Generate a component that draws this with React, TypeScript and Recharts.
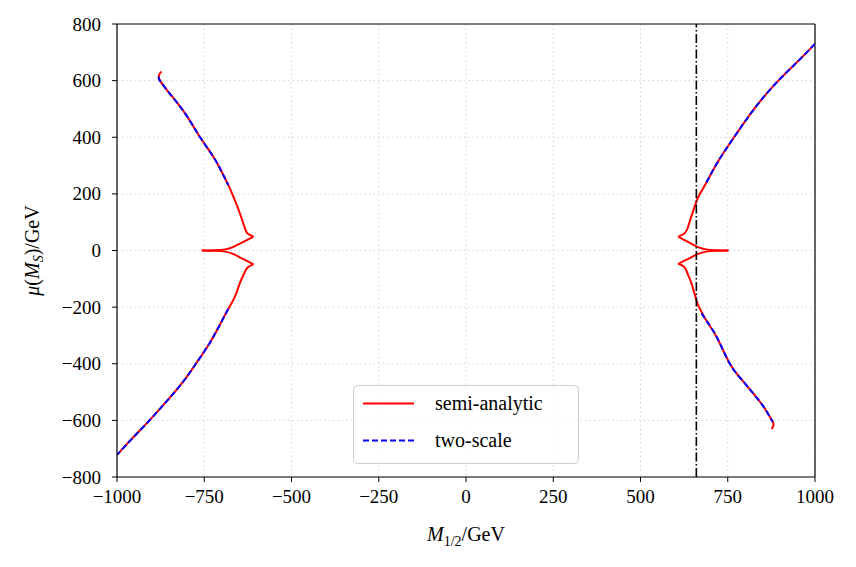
import React from "react";
import { CartesianGrid, Legend, Line, LineChart, ReferenceLine, XAxis, YAxis } from "recharts";

type Pt = { x: number; y: number };

// M_1/2 axis ticks and mu(M_S) axis ticks
const xTicks = [-1000, -750, -500, -250, 0, 250, 500, 750, 1000];
const yTicks = [-800, -600, -400, -200, 0, 200, 400, 600, 800];

// position of the dash-dotted marker line
const markerX = 660;

// semi-analytic, negative M_1/2: split at the cusps so each piece is smooth
const semiLeftUpper: Pt[] = [
  { x: -872, y: 632 }, { x: -878, y: 624 }, { x: -880, y: 614 }, { x: -877, y: 600 },
  { x: -850, y: 556 }, { x: -819, y: 508 }, { x: -790, y: 456 }, { x: -762, y: 400 },
  { x: -724, y: 331 }, { x: -700, y: 278 }, { x: -681, y: 231 }, { x: -668, y: 195 },
  { x: -655, y: 155 }, { x: -643, y: 114 }, { x: -634, y: 80 }, { x: -626, y: 60 },
  { x: -609, y: 49 },
];
const semiLeftSpikeUp: Pt[] = [
  { x: -609, y: 49 }, { x: -628, y: 37 }, { x: -648, y: 24 }, { x: -668, y: 12 },
  { x: -690, y: 4 }, { x: -720, y: 1 }, { x: -757, y: 0 },
];
const semiLeftSpikeDown: Pt[] = [
  { x: -757, y: 0 }, { x: -720, y: -1 }, { x: -690, y: -4 }, { x: -668, y: -12 },
  { x: -648, y: -24 }, { x: -628, y: -37 }, { x: -609, y: -49 },
];
const semiLeftLower: Pt[] = [
  { x: -609, y: -49 }, { x: -626, y: -60 }, { x: -636, y: -82 }, { x: -648, y: -115 },
  { x: -662, y: -163 }, { x: -681, y: -206 }, { x: -706, y: -264 }, { x: -736, y: -330 },
  { x: -774, y: -400 }, { x: -812, y: -466 }, { x: -858, y: -533 }, { x: -907, y: -600 },
  { x: -955, y: -662 }, { x: -1000, y: -722 },
];

// semi-analytic, positive M_1/2
const semiRightUpper: Pt[] = [
  { x: 1000, y: 730 }, { x: 950, y: 667 }, { x: 895, y: 600 }, { x: 830, y: 507 },
  { x: 768, y: 400 }, { x: 720, y: 310 }, { x: 685, y: 231 }, { x: 668, y: 195 },
  { x: 655, y: 155 }, { x: 643, y: 110 }, { x: 634, y: 76 }, { x: 625, y: 59 },
  { x: 608, y: 49 },
];
const semiRightSpikeUp: Pt[] = [
  { x: 608, y: 49 }, { x: 626, y: 37 }, { x: 645, y: 24 }, { x: 665, y: 12 },
  { x: 688, y: 4 }, { x: 717, y: 1 }, { x: 752, y: 0 },
];
const semiRightSpikeDown: Pt[] = [
  { x: 752, y: 0 }, { x: 717, y: -1 }, { x: 688, y: -4 }, { x: 665, y: -12 },
  { x: 645, y: -24 }, { x: 626, y: -36 }, { x: 608, y: -47 },
];
const semiRightLower: Pt[] = [
  { x: 608, y: -47 }, { x: 626, y: -59 }, { x: 636, y: -85 }, { x: 646, y: -116 },
  { x: 660, y: -175 }, { x: 668, y: -200 }, { x: 690, y: -250 }, { x: 719, y: -307 },
  { x: 756, y: -400 }, { x: 790, y: -456 }, { x: 823, y: -505 }, { x: 849, y: -545 },
  { x: 867, y: -580 }, { x: 879, y: -605 }, { x: 881, y: -617 }, { x: 876, y: -631 },
];

// two-scale solution, only where it exists
const twoLeftUpper: Pt[] = [
  { x: -880, y: 614 }, { x: -877, y: 600 }, { x: -850, y: 556 }, { x: -819, y: 508 },
  { x: -790, y: 456 }, { x: -762, y: 400 }, { x: -724, y: 331 }, { x: -700, y: 278 },
  { x: -681, y: 231 },
];
const twoLeftLower: Pt[] = [
  { x: -681, y: -206 }, { x: -706, y: -264 }, { x: -736, y: -330 }, { x: -774, y: -400 },
  { x: -812, y: -466 }, { x: -858, y: -533 }, { x: -907, y: -600 }, { x: -955, y: -662 },
  { x: -1000, y: -722 },
];
const twoRightUpper: Pt[] = [
  { x: 1000, y: 730 }, { x: 950, y: 667 }, { x: 895, y: 600 }, { x: 830, y: 507 },
  { x: 768, y: 400 }, { x: 720, y: 310 }, { x: 685, y: 231 },
];
const twoRightLower: Pt[] = [
  { x: 675, y: -222 }, { x: 690, y: -250 }, { x: 719, y: -307 }, { x: 756, y: -400 },
  { x: 790, y: -456 }, { x: 823, y: -505 }, { x: 849, y: -545 }, { x: 867, y: -580 },
  { x: 879, y: -605 },
];

const semiPieces = [
  semiLeftUpper, semiLeftSpikeUp, semiLeftSpikeDown, semiLeftLower,
  semiRightUpper, semiRightSpikeUp, semiRightSpikeDown, semiRightLower,
];
const twoPieces = [twoLeftUpper, twoLeftLower, twoRightUpper, twoRightLower];

const FONT = '"Liberation Serif", "Times New Roman", Times, serif';
const RED = "#ff0000";
const BLUE = "#0000ff";
const BLUE_DASH = "6 3";

const minus = (v: number) => String(v).replace("-", "\u2212");

function XTick({ x, y, payload }: any) {
  return (
    <text x={x} y={y + 14} textAnchor="middle" style={{ fontFamily: FONT, fontSize: 19 }} fill="#000">
      {minus(payload.value)}
    </text>
  );
}

function YTick({ x, y, payload }: any) {
  return (
    <text x={x} y={y + 6.5} textAnchor="end" style={{ fontFamily: FONT, fontSize: 19 }} fill="#000">
      {minus(payload.value)}
    </text>
  );
}

function LegendBox() {
  return (
    <svg width={226} height={79} style={{ display: "block" }}>
      <rect x={0.5} y={0.5} width={225} height={78} rx={4} fill="#fff" fillOpacity={0.8} stroke="#cccccc" />
      <line x1={10} x2={61} y1={18.5} y2={18.5} stroke={RED} strokeWidth={2} />
      <line x1={10} x2={61} y1={55.5} y2={55.5} stroke={BLUE} strokeWidth={2} strokeDasharray={BLUE_DASH} />
      <text x={82} y={25} style={{ fontFamily: FONT, fontSize: 20 }} fill="#000">semi-analytic</text>
      <text x={82} y={62} style={{ fontFamily: FONT, fontSize: 20 }} fill="#000">two-scale</text>
    </svg>
  );
}

function XLabel({ viewBox }: any) {
  const cx = viewBox.x + viewBox.width / 2;
  return (
    <text x={cx} y={541} textAnchor="middle" style={{ fontFamily: FONT, fontSize: 20 }} fill="#000">
      <tspan fontStyle="italic">M</tspan>
      <tspan fontSize={14} dy={5}>1/2</tspan>
      <tspan dy={-5}>/GeV</tspan>
    </text>
  );
}

function YLabel({ viewBox }: any) {
  const cy = viewBox.y + viewBox.height / 2;
  return (
    <text
      x={39}
      y={cy}
      transform={`rotate(-90 39 ${cy})`}
      textAnchor="middle"
      style={{ fontFamily: FONT, fontSize: 20 }}
      fill="#000"
    >
      <tspan fontStyle="italic">μ</tspan>
      <tspan>(</tspan>
      <tspan fontStyle="italic">M</tspan>
      <tspan fontStyle="italic" fontSize={14} dy={4}>S</tspan>
      <tspan dy={-4}>)/GeV</tspan>
    </text>
  );
}

export default function App() {
  const axisLine = { stroke: "#000", strokeWidth: 1.2 };
  return (
    <div style={{ width: 856, height: 567, background: "#fff", position: "relative", fontFamily: FONT }}>
      <style>{"body{margin:0}"}</style>
      <LineChart width={856} height={567} margin={{ top: 24, right: 41, bottom: 0, left: 0 }}>
        <CartesianGrid stroke="#d4d4d4" strokeDasharray="1.5 3" />
        <XAxis
          type="number"
          dataKey="x"
          domain={[-1000, 1000]}
          ticks={xTicks}
          allowDataOverflow
          height={90}
          tick={<XTick />}
          tickSize={5}
          tickMargin={7}
          axisLine={axisLine}
          tickLine={{ stroke: "#000" }}
          label={<XLabel />}
        />
        <YAxis
          type="number"
          dataKey="y"
          domain={[-800, 800]}
          ticks={yTicks}
          allowDataOverflow
          width={117}
          tick={<YTick />}
          tickSize={5}
          tickMargin={11}
          axisLine={axisLine}
          tickLine={{ stroke: "#000" }}
          label={<YLabel />}
        />
        <ReferenceLine x={1000} stroke="#000" strokeWidth={1.2} />
        <ReferenceLine y={800} stroke="#000" strokeWidth={1.2} />
        {semiPieces.map((d, i) => (
          <Line
            key={`semi-${i}`}
            data={d}
            dataKey="y"
            type="natural"
            stroke={RED}
            strokeWidth={2}
            dot={false}
            activeDot={false}
            isAnimationActive={false}
          />
        ))}
        {twoPieces.map((d, i) => (
          <Line
            key={`two-${i}`}
            data={d}
            dataKey="y"
            type="natural"
            stroke={BLUE}
            strokeWidth={2}
            strokeDasharray={BLUE_DASH}
            dot={false}
            activeDot={false}
            isAnimationActive={false}
          />
        ))}
        <ReferenceLine x={markerX} stroke="#000" strokeWidth={1.6} strokeDasharray="9 2.5 1.5 2.5" />
        <Legend
          layout="horizontal"
          verticalAlign="middle"
          align="center"
          content={() => <LegendBox />}
          wrapperStyle={{ left: 353, top: 385, width: 226, height: 79 }}
        />
      </LineChart>
    </div>
  );
}
